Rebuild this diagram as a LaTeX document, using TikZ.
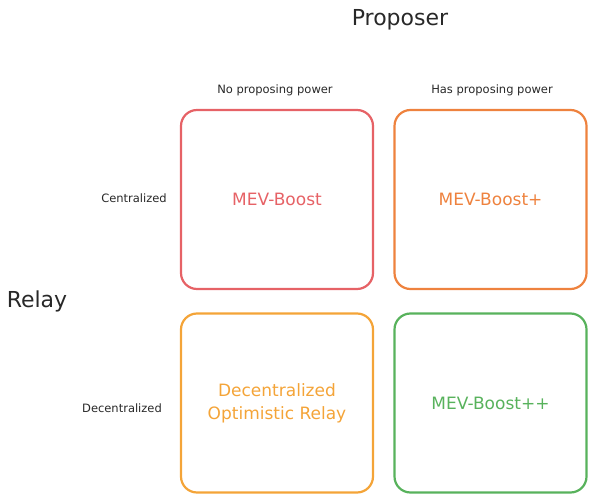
\documentclass[tikz,border=0pt]{standalone}
\usepackage{fontspec}
\setmainfont{DejaVu Sans}
\definecolor{cred}{RGB}{230,98,102}
\definecolor{corange}{RGB}{238,130,62}
\definecolor{cyellow}{RGB}{244,164,56}
\definecolor{cgreen}{RGB}{88,178,92}
\definecolor{ctext}{RGB}{40,40,40}
\begin{document}
\begin{tikzpicture}[x=1pt,y=-1pt,
  cell/.style={draw, line width=2.2pt, rounded corners=16pt, minimum width=192pt, minimum height=179pt, inner sep=0pt, align=center, font=\fontsize{17}{23}\selectfont},
  small/.style={text=ctext, font=\fontsize{11.5}{13}\selectfont, inner sep=0pt},
  big/.style={text=ctext, font=\fontsize{22}{26}\selectfont, inner sep=0pt}]
\useasboundingbox (0,0) rectangle (594,500);
\node[cell, draw=cred, text=cred] (a) at (277,199.5) {MEV-Boost};
\node[cell, draw=corange, text=corange] (b) at (490.5,199.5) {MEV-Boost+};
\node[cell, draw=cyellow, text=cyellow] (c) at (277,403) {Decentralized\\Optimistic Relay};
\node[cell, draw=cgreen, text=cgreen] (d) at (490.5,403) {MEV-Boost++};
\node[big] (prop) at (400,20) {Proposer};
\node[big] (relay) at (37,301) {Relay};
\node[small] (np) at (275,90) {No proposing power};
\node[small] (hp) at (492,90) {Has proposing power};
\node[small] (cen) at (134,198) {Centralized};
\node[small] (dec) at (122,408) {Decentralized};
\end{tikzpicture}
\end{document}
